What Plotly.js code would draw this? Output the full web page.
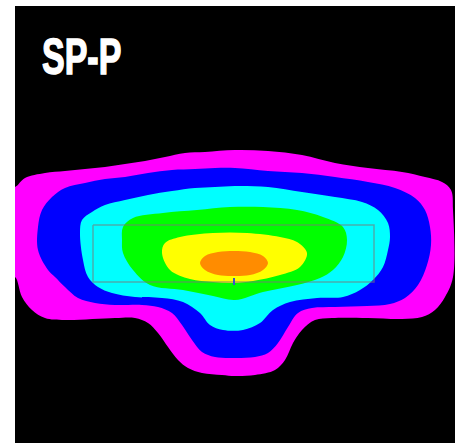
<!DOCTYPE html>
<html>
<head>
<meta charset="utf-8">
<script src="https://cdn.plot.ly/plotly-3.0.1.min.js"></script>
<style>
html,body{margin:0;padding:0;background:#fff;}
#chart{width:465px;height:443px;}
</style>
</head>
<body>
<div id="chart"></div>
<script>
// Contour bands (x, y in image-pixel units)
const bandNames = ["level 1", "level 2", "level 3", "level 4", "level 5", "level 6"];
const bandColors = ["#FF00FF", "#0000FF", "#00FFFF", "#00FF00", "#FFFF00", "#FF8C00"];

const magentaX = [8,15,25,45,65,85,105,125,145,165,185,205,235,268,302,335,368,402,425,442,451,453,453,445,435,422,402,368,332,315,302,293,285,275,255,235,222,202,188,178,168,158,148,135,115,65,45,32,22,15,8,8];
const magentaY = [187,187,178,173,171,169,167,164,161,157,153,152,150,151,155,163,168,172,177,182,190,210,277,297,310,317,319,318,318,320,330,343,360,370,375,376,375,373,368,360,347,333,323,318,318,320,318,310,297,277,277,230];

const blueX = [38,42,52,65,85,105,125,148,172,195,215,235,268,302,335,368,395,415,425,430,431,427,418,405,390,367,335,312,298,288,278,268,255,235,215,202,192,182,172,158,142,115,95,78,65,55,48,38];
const blueY = [227,210,197,188,183,179,177,173,170,169,168,168,171,173,177,182,188,198,210,227,245,265,285,298,304,306,307,308,313,327,343,353,357,358,357,352,340,325,313,307,305,305,303,298,287,277,270,250];

const cyanX = [80,82,92,105,125,148,172,195,215,235,268,302,335,362,378,388,390,388,383,373,360,343,317,290,273,260,243,223,210,200,183,162,135,112,98,88,83];
const cyanY = [233,220,212,205,200,195,191,188,187,186,187,192,197,202,210,223,237,250,267,280,290,297,298,302,310,323,330,330,325,313,302,298,297,293,287,277,260];

const greenX = [122,123,133,163,197,230,263,297,323,343,347,343,333,320,297,263,235,213,183,150,133,123];
const greenY = [240,227,218,213,210,207,207,210,217,227,240,257,270,278,285,292,300,296,290,285,270,253];

const yellowX = [162,165,180,213,247,280,297,307,300,280,253,234,213,190,170];
const yellowY = [253,243,237,233,233,237,242,253,267,275,281,283,282,279,270];

const orangeX = [200,205,218,234,250,263,268,263,250,234,218,205];
const orangeY = [263,256,252,251,252,256,263,270,275,276,275,270];

// Grey outline box and small blue tick
const boxX = [93,374,374,93,93];
const boxY = [225,225,282,282,225];
const tickX = [234,234];
const tickY = [278,285];

const titleText = "SP-P";

const bandsX = [magentaX, blueX, cyanX, greenX, yellowX, orangeX];
const bandsY = [magentaY, blueY, cyanY, greenY, yellowY, orangeY];

const traces = bandsX.map((xs, i) => ({
  type: "scatter",
  mode: "lines",
  x: xs.concat([xs[0]]),
  y: bandsY[i].concat([bandsY[i][0]]),
  fill: "toself",
  fillcolor: bandColors[i],
  line: {width: 0, shape: "spline", smoothing: 1, color: bandColors[i]},
  name: bandNames[i],
  hoverinfo: "skip"
}));

traces.push({
  type: "scatter", mode: "lines", x: boxX, y: boxY,
  line: {color: "rgba(120,120,120,0.6)", width: 1.5},
  hoverinfo: "skip"
});
traces.push({
  type: "scatter", mode: "lines", x: tickX, y: tickY,
  line: {color: "#3a56c8", width: 2},
  hoverinfo: "skip"
});

const layout = {
  width: 465, height: 443,
  margin: {l: 15, r: 10, t: 6, b: 0, pad: 0},
  paper_bgcolor: "#ffffff",
  plot_bgcolor: "#000000",
  showlegend: false,
  xaxis: {range: [15, 455], visible: false, fixedrange: true},
  yaxis: {range: [443, 6], visible: false, fixedrange: true},
  annotations: [{
    text: titleText,
    xref: "paper", yref: "paper",
    x: 0.056, y: 0.884,
    xanchor: "left", yanchor: "middle",
    showarrow: false,
    font: {family: "Liberation Sans, Arial, sans-serif", size: 50, color: "#ffffff", weight: "bold"}
  }]
};

Plotly.newPlot("chart", traces, layout, {displayModeBar: false, staticPlot: true}).then(() => {
  document.querySelectorAll("#chart .annotation-text").forEach(t => {
    t.style.transformBox = "fill-box";
    t.style.transformOrigin = "left center";
    t.style.transform = "scaleX(0.68)";
    t.style.stroke = "#ffffff";
    t.style.strokeWidth = "1.5px";
  });
});
</script>
</body>
</html>
